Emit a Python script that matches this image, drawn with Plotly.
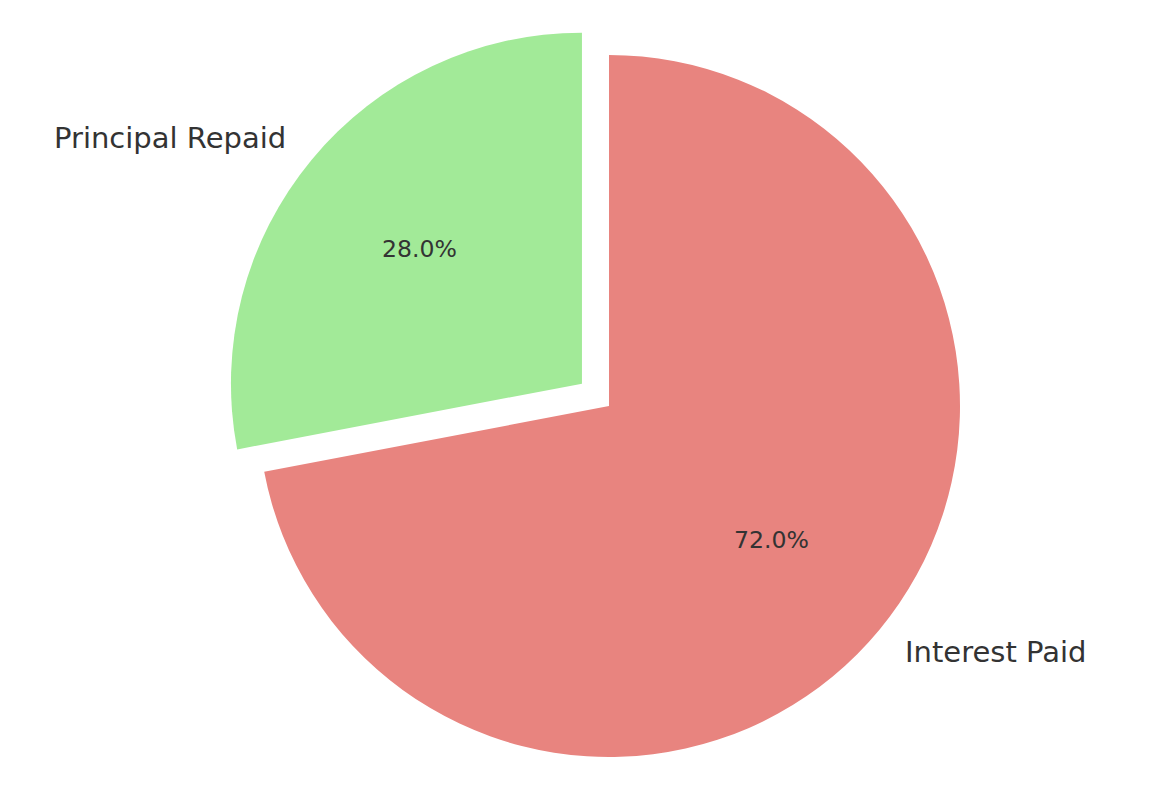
import math
import plotly.graph_objects as go

# Loan breakdown shown as a pie
labels = ["Interest Paid", "Principal Repaid"]
values = [72.0, 28.0]
colors = ["#E8847F", "#A2EA98"]
pulls = [0.0, 0.1]

W, H = 1172, 794
OFF = 8                     # page body margin in the browser
CX, CY, R = 609 - OFF, 406 - OFF, 351   # pie centre / radius in pixels
TEXT = "#333333"

fig = go.Figure()

half = R * (1 + max(pulls))
fig.add_trace(go.Pie(
    labels=labels,
    values=values,
    sort=False,
    direction="clockwise",
    rotation=0,
    pull=pulls,
    marker=dict(colors=colors, line=dict(width=0)),
    textinfo="none",
    hoverinfo="label+percent",
    showlegend=False,
    domain=dict(x=[(CX - half) / W, (CX + half) / W],
                y=[1 - (CY + half) / H, 1 - (CY - half) / H]),
))

# labels at 1.1 r, percentages at 0.6 r (matplotlib style)
total = sum(values)
start = 90.0
for lab, val, pull in zip(labels, values, pulls):
    sweep = 360.0 * val / total
    mid = math.radians(start - sweep / 2)
    start -= sweep
    right = math.cos(mid) > 0
    ox = CX + pull * R * math.cos(mid)
    oy = CY - pull * R * math.sin(mid)
    lx = ox + 1.1 * R * math.cos(mid)
    ly = oy - 1.1 * R * math.sin(mid)
    px_ = ox + 0.6 * R * math.cos(mid)
    py_ = oy - 0.6 * R * math.sin(mid)
    fig.add_annotation(x=lx / W, y=1 - ly / H, xref="paper", yref="paper",
                       text=lab, showarrow=False, borderpad=0,
                       xanchor="left" if right else "right",
                       xshift=-2 if right else 3,
                       yanchor="middle",
                       font=dict(family="DejaVu Sans", size=29, color=TEXT))
    fig.add_annotation(x=px_ / W, y=1 - py_ / H, xref="paper", yref="paper",
                       text=f"{100 * val / total:.1f}%", showarrow=False,
                       xanchor="center", yanchor="middle",
                       font=dict(family="DejaVu Sans", size=23.6, color=TEXT))

fig.update_layout(
    width=W, height=H,
    margin=dict(l=0, r=0, t=0, b=0),
    paper_bgcolor="white",
    plot_bgcolor="white",
)

fig.write_html("out.html")
